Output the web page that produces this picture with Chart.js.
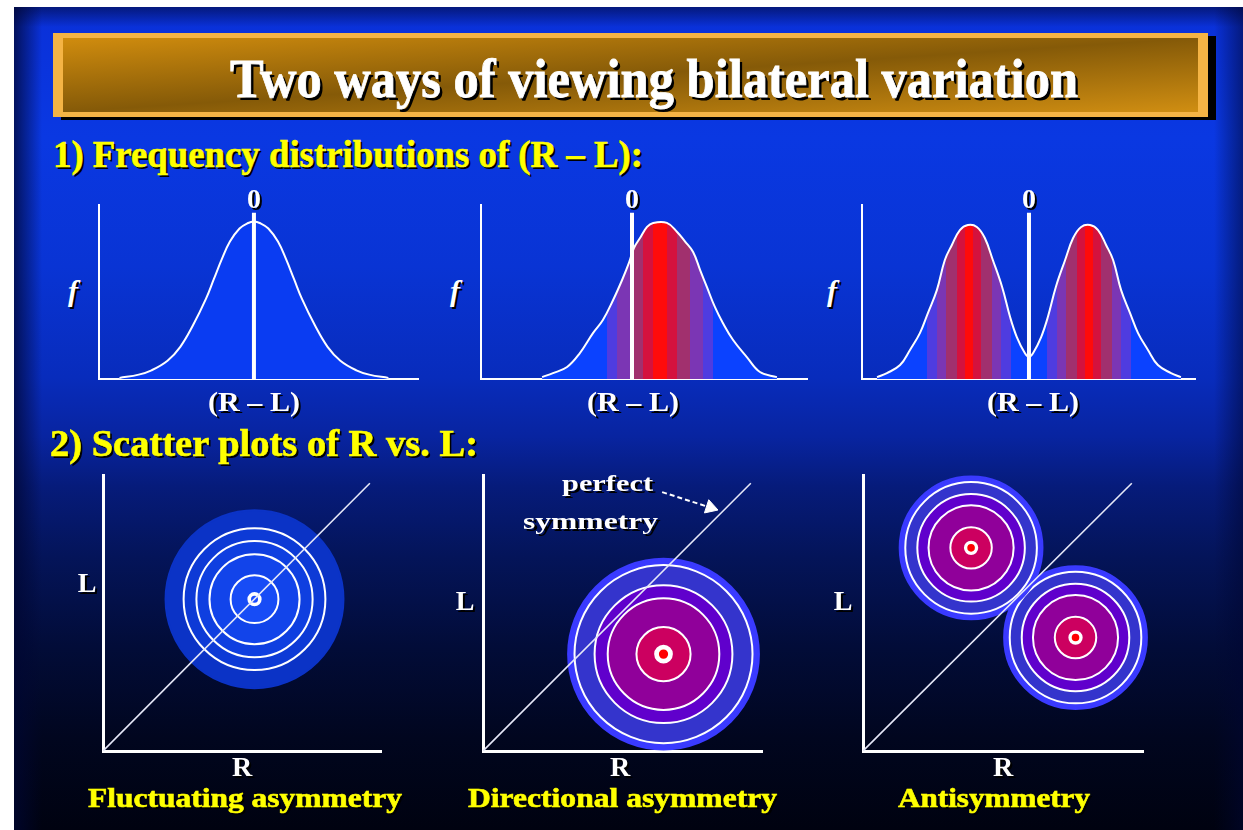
<!DOCTYPE html>
<html>
<head>
<meta charset="utf-8">
<script src="https://cdn.jsdelivr.net/npm/chart.js@4.4.1/dist/chart.umd.min.js"></script>
<style>
  html, body { margin:0; padding:0; width:1243px; height:830px; overflow:hidden; background:#ffffff; }
  #slide { position:absolute; left:14px; top:7px; width:1229px; height:823px;
    background:
      linear-gradient(to right, rgba(0,6,50,0.75) 0px, rgba(0,6,50,0) 28px, rgba(0,6,50,0) 1200px, rgba(0,6,50,0.55) 1229px),
      linear-gradient(to bottom, rgba(0,6,50,0.55) 0px, rgba(0,6,50,0) 20px),
      linear-gradient(to bottom, #0a30d8 0px, #0a38e2 130px, #0934d4 260px, #082cbc 370px, #0824a0 430px, #061b7a 480px, #041459 550px, #020c38 640px, #01061f 730px, #000210 823px);
  }
  #bar { position:absolute; left:53px; top:33px; width:1155px; height:84px; background:#f5b445; box-shadow: 8px 3px 0 #000; }
  #barInner { position:absolute; left:63px; top:38px; width:1135px; height:74px;
    background: linear-gradient(to bottom right, #d08c0e 0%, #855a08 50%, #d08e12 100%); }
  canvas { position:absolute; }
  .t { position:absolute; white-space:nowrap; font-family:"Liberation Serif","DejaVu Serif",serif; font-weight:bold; line-height:1; transform-origin:0 0; }
  .w { color:#ffffff; text-shadow: 2px 2px 0 #000; }
  .y { color:#ffff00; text-shadow: 2px 2px 0 #000; -webkit-text-stroke: 0.6px #ffff00; }
  .ttl { color:#ffffff; text-shadow: 3px 3px 0 #000; -webkit-text-stroke: 0.8px #ffffff; }
</style>
</head>
<body>
<div id="slide"></div>
<div id="bar"></div>
<div id="barInner"></div>

<canvas id="c1" width="345" height="195" style="left:85px;top:195px"></canvas>
<canvas id="c2" width="350" height="195" style="left:468px;top:195px"></canvas>
<canvas id="c3" width="360" height="195" style="left:849px;top:195px"></canvas>
<canvas id="c4" width="300" height="300" style="left:90px;top:465px"></canvas>
<canvas id="c5" width="310" height="300" style="left:470px;top:465px"></canvas>
<canvas id="c6" width="310" height="300" style="left:850px;top:465px"></canvas>

<div class="t ttl" data-x="230" data-w="848" data-base="97" data-fs="54">Two ways of viewing bilateral variation</div>
<div class="t y" data-x="53" data-w="590" data-base="167" data-fs="37">1) Frequency distributions of (R – L):</div>
<div class="t y" data-x="50" data-w="428" data-base="456" data-fs="37">2) Scatter plots of R vs. L:</div>

<div class="t w" data-cx="254" data-base="208" data-fs="28">0</div>
<div class="t w" data-cx="632" data-base="208" data-fs="28">0</div>
<div class="t w" data-cx="1029" data-base="208" data-fs="28">0</div>
<div class="t w" data-cx="73" data-base="301" data-fs="30" style="font-style:italic">f</div>
<div class="t w" data-cx="455" data-base="301" data-fs="30" style="font-style:italic">f</div>
<div class="t w" data-cx="832" data-base="301" data-fs="30" style="font-style:italic">f</div>
<div class="t w" data-cx="254" data-w="92" data-base="411" data-fs="28">(R – L)</div>
<div class="t w" data-cx="633" data-w="92" data-base="411" data-fs="28">(R – L)</div>
<div class="t w" data-cx="1033" data-w="92" data-base="411" data-fs="28">(R – L)</div>

<div class="t w" data-cx="87" data-base="592" data-fs="28">L</div>
<div class="t w" data-cx="465" data-base="610" data-fs="28">L</div>
<div class="t w" data-cx="843" data-base="610" data-fs="28">L</div>
<div class="t w" data-cx="242" data-base="776" data-fs="28">R</div>
<div class="t w" data-cx="620" data-base="776" data-fs="28">R</div>
<div class="t w" data-cx="1003" data-base="776" data-fs="28">R</div>
<div class="t w" data-cx="607" data-w="91" data-base="491" data-fs="24">perfect</div>
<div class="t w" data-cx="590" data-w="135" data-base="529" data-fs="24">symmetry</div>

<div class="t y" data-x="88" data-w="314" data-base="807" data-fs="28">Fluctuating asymmetry</div>
<div class="t y" data-x="468" data-w="309" data-base="807" data-fs="28">Directional asymmetry</div>
<div class="t y" data-x="898" data-w="192" data-base="807" data-fs="28">Antisymmetry</div>

<script>
// ================= DATA =================
// 1) Frequency distributions of (R - L): x = (R - L), f = frequency (0..100)
const fluctuatingX = [-4.2, -3.6, -3.2, -2.7, -2.3, -1.9, -1.5, -1.25, -1.0, -0.75, -0.45, -0.2, 0, 0.2, 0.45, 0.75, 1.0, 1.25, 1.5, 1.9, 2.3, 2.7, 3.2, 3.6, 4.2];
const fluctuatingF = [0.6, 2.5, 5, 10.5, 18.5, 31, 46, 57.5, 69, 79, 86.5, 89.5, 90.5, 89.5, 86.5, 79, 69, 57.5, 46, 31, 18.5, 10.5, 5, 2.5, 0.6];

const directionalX = [-2.81, -2.47, -2.03, -1.63, -1.22, -0.91, -0.59, -0.31, -0.09, 0.06, 0.25, 0.47, 0.66, 1.09, 1.41, 1.66, 1.91, 2.13, 2.34, 2.59, 2.84, 3.16, 3.59, 4.0, 4.53];
const directionalF = [1.1, 3.4, 6.9, 14.9, 26.4, 33.9, 45.4, 56.9, 67, 75.3, 81, 87.4, 89.7, 89.7, 84.5, 79, 73, 62.6, 52.9, 41.4, 32.2, 22.4, 12.6, 4.0, 1.1];

const antisymX = [-4.75, -4.44, -4.03, -3.72, -3.41, -3.16, -2.88, -2.63, -2.41, -2.16, -1.91, -1.63, -1.38, -1.13, -0.84, -0.59, -0.38, -0.13, 0,
                  0.13, 0.38, 0.59, 0.84, 1.13, 1.38, 1.63, 1.91, 2.16, 2.41, 2.63, 2.88, 3.16, 3.41, 3.72, 4.03, 4.44, 4.75];
const antisymF = [1.1, 3.4, 8.0, 16.7, 26.4, 37.9, 51.1, 68.4, 77.0, 85.6, 88.5, 87.4, 81.0, 68.4, 52.9, 35.6, 24.1, 14.9, 12.6,
                  14.9, 24.1, 35.6, 52.9, 68.4, 81.0, 87.4, 88.5, 85.6, 77.0, 68.4, 51.1, 37.9, 26.4, 16.7, 8.0, 3.4, 1.1];

const distXRanges = [[-4.84, 5.125], [-4.72, 5.47], [-5.22, 5.19]];
const distYRange = [0, 100];
const zeroMarkerTop = 95.5;                  // the "0" reference line height

// red "mode" stripes (centres and half-widths in (R - L) units)
const directionalModes = [0.875];
const directionalStripeHalfWidths = [1.66, 1.34, 0.94, 0.53, 0.22];
const antisymModes = [-1.88, 1.88];
const antisymStripeHalfWidths = [1.31, 1.0, 0.72, 0.38, 0.13];

// 2) Scatter plots of R vs. L (axes 0..10)
const scatterRange = [0, 10];
const symmetryLineEnd = [9.6, 9.7];
const fluctuatingCentre = [5.45, 5.5];
const fluctuatingRings = [3.2, 2.55, 2.09, 1.62, 0.86, 0.22, 0.09];
const directionalCentre = [6.47, 3.51];
const directionalRings = [3.42, 3.19, 2.47, 2.0, 0.97, 0.3, 0.13];
const antisymCentres = [[3.86, 7.36], [7.59, 4.11]];
const antisymRings = [2.55, 2.35, 1.92, 1.52, 0.74, 0.22, 0.1];
const arrowPath = [[6.42, 9.38], [8.15, 8.82]];

// ================= STYLES =================
const stripeColors = ['#4f3ce0', '#7b36b4', '#a1306e', '#d4123e', '#ff0b0b'];
const blueRingFill = ['#0b33c6', '#0d3ad6', '#0f3fe0', '#1244ea', '#174cf6', '#ffffff', '#1a4cff'];
const blueRingBorder = ['#0b33c6', '#ffffff', '#ffffff', '#ffffff', '#ffffff', '#ffffff', '#1a4cff'];
const hotRingFill = ['#3a3aff', '#3434cc', '#6000cc', '#90009a', '#cc0060', '#ffffff', '#ff0000'];
const hotRingBorder = ['#3a3aff', '#ffffff', '#ffffff', '#ffffff', '#ffffff', '#ffffff', '#ff0000'];

// ================= TEXT PLACEMENT =================
document.querySelectorAll('.t').forEach(el => {
  const fs = +el.dataset.fs;
  el.style.fontSize = fs + 'px';
  const nat = el.getBoundingClientRect().width;
  const w = el.dataset.w ? +el.dataset.w : nat;
  const left = el.dataset.cx !== undefined ? (+el.dataset.cx - w / 2) : +el.dataset.x;
  el.style.left = left + 'px';
  el.style.top = (+el.dataset.base - 0.8375 * fs) + 'px';
  el.style.transform = 'scaleX(' + (w / nat) + ')';
});

// ================= CHARTS =================
const common = {
  responsive: false, animation: false, events: [],
  plugins: { legend: { display: false }, tooltip: { enabled: false } }
};
function axis(range, bw) {
  return { type: 'linear', min: range[0], max: range[1],
    grid: { display: false, drawTicks: false }, ticks: { display: false },
    border: { display: true, color: '#ffffff', width: bw } };
}
function pts(xs, ys) { return xs.map((x, i) => ({ x: x, y: ys[i] })); }

function stripeFill(base, modes, halfWidths) {
  return (ctx) => {
    const chart = ctx.chart, area = chart.chartArea;
    if (!area || !modes.length) return base;
    const sx = chart.scales.x;
    const L = area.left, W = area.right - area.left;
    const bands = [];
    modes.forEach(m => halfWidths.forEach((h, k) => bands.push({ a: m - h, b: m + h, k: k })));
    const edges = [];
    bands.forEach(b => { edges.push(b.a, b.b); });
    edges.sort((p, q) => p - q);
    const colorAt = (v) => {
      let best = -1;
      bands.forEach(b => { if (v > b.a && v < b.b && b.k > best) best = b.k; });
      return best < 0 ? base : stripeColors[best];
    };
    const g = chart.ctx.createLinearGradient(L, 0, area.right, 0);
    const frac = v => Math.min(1, Math.max(0, (sx.getPixelForValue(v) - L) / W));
    g.addColorStop(0, base);
    g.addColorStop(frac(edges[0]), base);
    for (let i = 0; i < edges.length - 1; i++) {
      const c = colorAt((edges[i] + edges[i + 1]) / 2);
      g.addColorStop(frac(edges[i]), c);
      g.addColorStop(frac(edges[i + 1]), c);
    }
    g.addColorStop(frac(edges[edges.length - 1]), base);
    g.addColorStop(1, base);
    return g;
  };
}

function distChart(id, xs, fs, xr, pad, base, modes, halfWidths) {
  new Chart(document.getElementById(id), {
    type: 'line',
    data: { datasets: [
      { data: [{ x: 0, y: 0 }, { x: 0, y: zeroMarkerTop }], borderColor: '#ffffff', borderWidth: 4,
        borderCapStyle: 'butt', pointRadius: 0, fill: false, order: 0 },
      { data: pts(xs, fs), borderColor: '#ffffff', borderWidth: 2, pointRadius: 0,
        fill: 'origin', backgroundColor: stripeFill(base, modes, halfWidths),
        tension: 0.4, order: 1 }
    ] },
    options: Object.assign({}, common, {
      layout: { padding: pad, autoPadding: false },
      scales: { x: axis(xr, 2), y: axis(distYRange, 2) }
    })
  });
}

distChart('c1', fluctuatingX, fluctuatingF, distXRanges[0], { left: 14, top: 10, right: 12, bottom: 11 }, '#0a3cf2', [], []);
distChart('c2', directionalX, directionalF, distXRanges[1], { left: 13, top: 10, right: 11, bottom: 11 }, '#0b42ff', directionalModes, directionalStripeHalfWidths);
distChart('c3', antisymX, antisymF, distXRanges[2], { left: 13, top: 10, right: 14, bottom: 11 }, '#0b42ff', antisymModes, antisymStripeHalfWidths);

function ringRadius(chart, r) {
  const s = chart.scales.x;
  return Math.abs(s.getPixelForValue(r) - s.getPixelForValue(0));
}
function cluster(centre, rings, fill, border) {
  return {
    data: rings.map(() => ({ x: centre[0], y: centre[1] })),
    pointRadius: (ctx) => ringRadius(ctx.chart, rings[ctx.dataIndex]),
    pointBackgroundColor: fill, pointBorderColor: border, pointBorderWidth: 2,
    clip: false, order: 2
  };
}
function symmetryLine() {
  return { data: [{ x: 0, y: 0 }, { x: symmetryLineEnd[0], y: symmetryLineEnd[1] }], showLine: true,
    borderColor: '#e6e8f8', borderWidth: 1.6, pointRadius: 0, order: 0 };
}
function scatterChart(id, datasets, pad) {
  new Chart(document.getElementById(id), {
    type: 'scatter',
    data: { datasets: datasets },
    options: Object.assign({}, common, {
      layout: { padding: pad, autoPadding: false },
      scales: { x: axis(scatterRange, 3), y: axis(scatterRange, 3) }
    })
  });
}

scatterChart('c4', [symmetryLine(), cluster(fluctuatingCentre, fluctuatingRings, blueRingFill, blueRingBorder)],
  { left: 13, top: 10, right: 9, bottom: 14 });

scatterChart('c5', [
  symmetryLine(),
  { data: arrowPath.map(p => ({ x: p[0], y: p[1] })), showLine: true, borderColor: '#ffffff', borderWidth: 2,
    borderDash: [5, 3], pointRadius: [0, 8], pointStyle: 'triangle', pointRotation: 108,
    pointBackgroundColor: '#ffffff', pointBorderColor: '#ffffff', pointBorderWidth: 1, order: 1, clip: false },
  cluster(directionalCentre, directionalRings, hotRingFill, hotRingBorder)
], { left: 13, top: 10, right: 18, bottom: 14 });

scatterChart('c6', [
  symmetryLine(),
  cluster(antisymCentres[0], antisymRings, hotRingFill, hotRingBorder),
  cluster(antisymCentres[1], antisymRings, hotRingFill, hotRingBorder)
], { left: 13, top: 10, right: 17, bottom: 14 });
</script>
</body>
</html>
